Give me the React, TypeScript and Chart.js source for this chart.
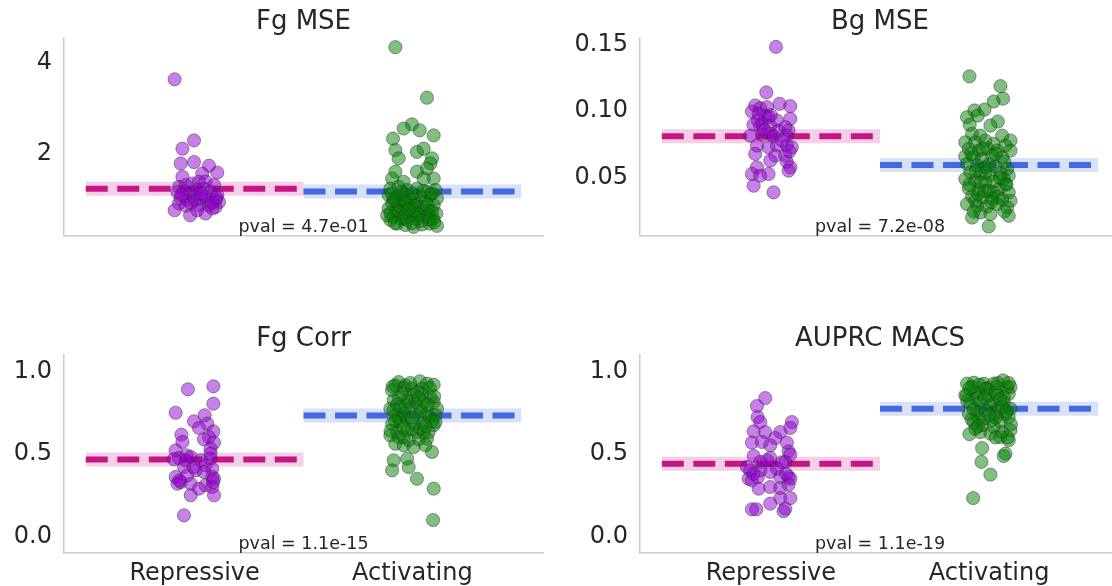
import React, { useEffect, useRef } from "react";
import { Chart, registerables } from "chart.js";

Chart.register(...registerables);

// ---------- data ----------
const categories = ["Repressive", "Activating"];
const panelTitles = ["Fg MSE", "Bg MSE", "Fg Corr", "AUPRC MACS"];
const pvalLabels = ["pval = 4.7e-01", "pval = 7.2e-08", "pval = 1.1e-15", "pval = 1.1e-19"];

const fgMseTicks = [2, 4];
const bgMseTicks = [0.05, 0.1, 0.15];
const corrTicks = [0.0, 0.5, 1.0];

// group means [Repressive, Activating]
const fgMseMeans = [1.25, 1.19];
const bgMseMeans = [0.0812, 0.0598];
const fgCorrMeans = [0.466, 0.734];
const auprcMeans = [0.441, 0.775];

// points: [jitter (category units), value]
type Pt = [number, number];

const fgMseRep: Pt[] = [
  [-0.092, 3.63], [-0.003, 2.3], [-0.056, 2.12], [-0.064, 1.8], [-0.003, 1.83], [0.066, 1.75],
  [0.104, 1.6], [-0.056, 1.51], [0.035, 1.58], [-0.072, 1.29], [-0.041, 1.33], [-0.011, 1.36],
  [0.02, 1.4], [0.05, 1.41], [0.089, 1.33], [-0.079, 1.18], [-0.049, 1.2], [-0.018, 1.15],
  [0.012, 1.22], [0.043, 1.25], [0.073, 1.18], [0.104, 1.11], [-0.064, 1.04], [-0.034, 1.0],
  [-0.003, 1.07], [0.028, 1.04], [0.058, 1.0], [0.096, 1.0], [0.112, 0.96], [-0.072, 0.93],
  [-0.018, 0.93], [0.02, 0.89], [0.066, 0.89], [0.096, 0.85], [-0.092, 0.78], [-0.021, 0.67],
  [0.05, 0.71], [0.012, 0.78], [0.081, 0.82], [-0.06, 1.12], [0.0, 1.0], [0.05, 1.08],
  [0.08, 0.95], [-0.04, 0.88], [0.03, 1.15], [0.1, 1.05],
];
const fgMseAct: Pt[] = [
  [-0.078, 4.33], [0.067, 3.23], [-0.002, 2.65], [-0.04, 2.56], [0.034, 2.52], [0.098, 2.41],
  [-0.089, 2.34], [-0.078, 2.09], [-0.063, 1.91], [0.021, 2.05], [0.052, 2.12], [0.09, 1.91],
  [0.083, 1.8], [0.067, 1.69], [-0.078, 1.62], [0.021, 1.62], [0.098, 1.47], [-0.093, 1.47],
  [0.052, 1.47], [-0.04, 1.4], [-0.101, 1.25], [-0.063, 1.29], [-0.024, 1.22], [0.021, 1.25],
  [0.067, 1.18], [0.106, 1.22], [-0.109, 1.11], [-0.07, 1.07], [-0.032, 1.12], [0.006, 1.04],
  [0.044, 1.07], [0.083, 1.11], [0.113, 1.04], [-0.093, 0.93], [-0.055, 0.96], [-0.017, 0.89],
  [0.021, 0.93], [0.06, 0.96], [0.098, 0.89], [-0.109, 0.82], [-0.073, 0.78], [-0.037, 0.75],
  [0.003, 0.82], [0.04, 0.76], [0.075, 0.78], [0.11, 0.71], [-0.089, 0.64], [-0.052, 0.6],
  [-0.012, 0.64], [0.021, 0.59], [0.06, 0.64], [0.095, 0.6], [-0.07, 0.49], [-0.032, 0.46],
  [0.006, 0.42], [0.044, 0.47], [0.079, 0.49], [0.113, 0.44], [-0.101, 0.57], [-0.047, 0.71],
  [-0.086, 1.04], [-0.009, 1.0], [0.029, 0.67], [-0.024, 0.57], [-0.063, 0.89], [0.052, 0.85],
  [0.006, 0.71], [-0.04, 1.0], [0.075, 0.67], [-0.116, 0.67], [-0.095, 1.15], [-0.05, 1.18],
  [0.0, 1.15], [0.05, 1.2], [0.09, 1.15], [-0.08, 0.98], [-0.03, 0.95], [0.01, 0.88],
  [0.07, 0.9], [-0.1, 0.72], [-0.06, 0.75], [0.02, 0.72], [0.09, 0.75], [-0.04, 0.62],
  [0.04, 0.55], [0.08, 0.58], [-0.08, 0.5], [0.0, 0.5], [0.1, 0.52], [-0.02, 0.8],
];

const bgMseRep: Pt[] = [
  [0.023, 0.148], [-0.021, 0.114], [0.04, 0.1055], [0.089, 0.1037], [-0.072, 0.1042], [-0.049, 0.1022],
  [-0.018, 0.103], [-0.087, 0.0997], [-0.056, 0.098], [-0.026, 0.0967], [-0.011, 0.0955], [0.028, 0.093],
  [0.089, 0.0943], [-0.041, 0.0905], [-0.049, 0.0887], [-0.003, 0.0892], [0.035, 0.0855], [0.081, 0.0855],
  [0.066, 0.088], [-0.095, 0.0817], [-0.041, 0.0823], [-0.003, 0.083], [0.012, 0.0812], [0.073, 0.0817],
  [-0.064, 0.0742], [-0.011, 0.073], [0.028, 0.0742], [0.073, 0.0742], [0.096, 0.073], [-0.072, 0.068],
  [0.02, 0.0667], [0.066, 0.0667], [-0.003, 0.063], [0.073, 0.0622], [0.089, 0.058], [0.081, 0.0555],
  [-0.064, 0.058], [-0.087, 0.053], [-0.049, 0.0517], [-0.011, 0.053], [-0.079, 0.0442], [0.012, 0.0392],
  [-0.06, 0.093], [-0.03, 0.086], [0.0, 0.097], [-0.08, 0.09], [0.05, 0.078], [0.085, 0.07],
];
const bgMseAct: Pt[] = [
  [-0.09, 0.126], [0.052, 0.1187], [0.064, 0.1093], [0.021, 0.1072], [-0.021, 0.1012], [-0.067, 0.1005],
  [-0.101, 0.0955], [-0.052, 0.0967], [0.04, 0.0922], [-0.089, 0.0898], [0.006, 0.0892], [-0.078, 0.083],
  [-0.04, 0.0817], [0.06, 0.0817], [0.098, 0.078], [-0.109, 0.0767], [-0.063, 0.0767], [-0.017, 0.078],
  [0.021, 0.0755], [0.075, 0.0742], [-0.093, 0.0718], [-0.047, 0.0705], [-0.009, 0.0722], [0.037, 0.0705],
  [0.098, 0.0705], [-0.109, 0.0662], [-0.07, 0.0655], [-0.032, 0.0643], [0.014, 0.0667], [0.06, 0.0655],
  [-0.101, 0.0605], [-0.055, 0.0592], [-0.017, 0.058], [0.029, 0.0587], [0.083, 0.0568], [-0.086, 0.0542],
  [-0.04, 0.053], [0.006, 0.0523], [0.052, 0.0538], [0.09, 0.0517], [-0.109, 0.0492], [-0.063, 0.048],
  [-0.017, 0.0467], [0.021, 0.0472], [0.075, 0.0455], [-0.093, 0.0422], [-0.047, 0.0412], [-0.002, 0.0405],
  [0.044, 0.0417], [0.09, 0.0392], [-0.078, 0.0362], [-0.032, 0.0354], [0.014, 0.0347], [0.06, 0.0342],
  [0.098, 0.033], [-0.101, 0.0305], [-0.055, 0.0292], [-0.009, 0.0287], [0.037, 0.0305], [0.083, 0.028],
  [-0.04, 0.0242], [0.006, 0.023], [-0.078, 0.0204], [0.09, 0.0217], [-0.002, 0.0137], [-0.017, 0.0542],
  [0.021, 0.0392], [-0.04, 0.0467], [0.067, 0.0492], [-0.063, 0.033], [-0.08, 0.068], [-0.03, 0.072],
  [0.03, 0.068], [0.07, 0.062], [-0.06, 0.055], [0.0, 0.06], [0.05, 0.05], [-0.09, 0.045],
  [-0.02, 0.04], [0.04, 0.036], [0.08, 0.045], [-0.05, 0.038], [0.01, 0.032], [0.07, 0.025],
  [-0.07, 0.025],
];

const fgCorrRep: Pt[] = [
  [-0.031, 0.892], [0.086, 0.91], [0.086, 0.805], [-0.087, 0.75], [0.046, 0.735], [-0.003, 0.698],
  [0.058, 0.684], [0.02, 0.658], [0.086, 0.637], [-0.061, 0.617], [0.066, 0.603], [-0.056, 0.573],
  [0.043, 0.589], [0.089, 0.569], [0.073, 0.532], [-0.087, 0.522], [-0.037, 0.492], [-0.072, 0.476],
  [-0.018, 0.482], [0.073, 0.472], [0.028, 0.462], [-0.095, 0.468], [0.05, 0.431], [-0.049, 0.421],
  [0.005, 0.401], [0.081, 0.411], [0.043, 0.391], [-0.087, 0.361], [-0.034, 0.371], [0.081, 0.361],
  [0.089, 0.35], [-0.064, 0.33], [-0.018, 0.32], [0.05, 0.31], [-0.079, 0.32], [0.02, 0.29],
  [0.081, 0.3], [0.089, 0.25], [-0.018, 0.25], [-0.049, 0.128], [-0.003, 0.421], [0.073, 0.502],
  [-0.07, 0.34], [0.085, 0.33], [-0.04, 0.46],
];
const fgCorrAct: Pt[] = [
  [-0.063, 0.936], [-0.032, 0.916], [0.034, 0.941], [0.067, 0.926], [0.098, 0.92], [-0.093, 0.886],
  [-0.002, 0.896], [-0.047, 0.865], [0.044, 0.865], [0.083, 0.845], [-0.086, 0.825], [-0.024, 0.825],
  [0.014, 0.815], [0.098, 0.815], [-0.101, 0.775], [-0.055, 0.785], [-0.009, 0.775], [0.037, 0.785],
  [0.113, 0.775], [-0.078, 0.735], [-0.032, 0.724], [0.021, 0.735], [0.075, 0.724], [0.106, 0.735],
  [-0.093, 0.684], [-0.055, 0.694], [0.006, 0.684], [0.052, 0.69], [0.098, 0.674], [-0.07, 0.633],
  [-0.024, 0.644], [0.021, 0.633], [0.075, 0.633], [-0.101, 0.613], [-0.063, 0.603], [-0.017, 0.583],
  [0.029, 0.589], [0.067, 0.593], [-0.078, 0.562], [-0.04, 0.553], [0.006, 0.542], [0.06, 0.553],
  [0.09, 0.512], [-0.086, 0.462], [-0.024, 0.472], [-0.093, 0.401], [-0.017, 0.421], [0.021, 0.35],
  [0.098, 0.29], [0.095, 0.1], [0.044, 0.896], [-0.04, 0.9], [0.006, 0.856], [-0.07, 0.799],
  [0.052, 0.815], [-0.04, 0.744], [-0.002, 0.653], [-0.078, 0.916], [0.021, 0.876], [-0.017, 0.815],
  [0.067, 0.744], [-0.063, 0.714], [0.037, 0.653], [-0.04, 0.603], [0.052, 0.633], [0.106, 0.694],
  [-0.086, 0.765], [-0.09, 0.91], [-0.01, 0.93], [0.08, 0.9], [-0.06, 0.84], [0.03, 0.84],
  [0.1, 0.85], [-0.08, 0.7], [0.0, 0.72], [0.09, 0.7], [-0.04, 0.66], [0.06, 0.67],
  [-0.1, 0.64], [0.04, 0.76], [-0.03, 0.79], [0.07, 0.8],
];

const auprcRep: Pt[] = [
  [-0.026, 0.839], [-0.064, 0.791], [-0.061, 0.724], [-0.049, 0.694], [0.096, 0.694], [0.089, 0.658],
  [-0.079, 0.637], [-0.026, 0.633], [0.043, 0.633], [0.02, 0.597], [-0.087, 0.569], [-0.041, 0.573],
  [0.073, 0.569], [-0.003, 0.553], [0.081, 0.516], [-0.079, 0.488], [-0.003, 0.476], [0.089, 0.496],
  [-0.049, 0.452], [-0.018, 0.462], [0.066, 0.452], [-0.095, 0.401], [-0.049, 0.401], [0.043, 0.361],
  [0.081, 0.361], [-0.102, 0.35], [-0.003, 0.391], [-0.087, 0.34], [-0.056, 0.29], [-0.003, 0.3],
  [0.043, 0.294], [0.081, 0.314], [0.089, 0.35], [0.043, 0.233], [0.089, 0.233], [-0.003, 0.199],
  [-0.087, 0.165], [-0.067, 0.165], [0.058, 0.153], [0.066, 0.169], [0.028, 0.411], [-0.11, 0.421],
  [-0.08, 0.38], [-0.06, 0.36], [0.07, 0.38], [0.05, 0.45],
];
const auprcAct: Pt[] = [
  [-0.101, 0.926], [-0.07, 0.932], [-0.024, 0.926], [0.021, 0.926], [0.064, 0.946], [0.098, 0.906],
  [-0.109, 0.856], [-0.063, 0.876], [-0.009, 0.896], [0.037, 0.906], [0.09, 0.865], [-0.086, 0.805],
  [-0.04, 0.815], [0.014, 0.825], [0.067, 0.815], [0.098, 0.775], [-0.093, 0.744], [-0.055, 0.755],
  [-0.017, 0.765], [0.029, 0.744], [0.09, 0.724], [-0.07, 0.694], [-0.032, 0.674], [0.014, 0.704],
  [0.052, 0.694], [-0.04, 0.633], [0.006, 0.623], [0.06, 0.633], [0.098, 0.644], [0.052, 0.603],
  [0.09, 0.583], [-0.032, 0.536], [0.075, 0.502], [0.067, 0.488], [-0.035, 0.452], [0.006, 0.375],
  [-0.073, 0.233], [-0.101, 0.856], [-0.04, 0.865], [0.006, 0.795], [0.037, 0.856], [0.067, 0.845],
  [-0.024, 0.714], [0.021, 0.664], [-0.063, 0.653], [-0.078, 0.906], [-0.002, 0.856], [0.044, 0.775],
  [-0.047, 0.714], [0.075, 0.744], [-0.017, 0.896], [0.029, 0.875], [0.083, 0.906], [-0.055, 0.835],
  [0.06, 0.785], [-0.09, 0.9], [-0.045, 0.92], [0.04, 0.93], [0.09, 0.93], [-0.1, 0.82],
  [-0.02, 0.84], [0.05, 0.83], [-0.07, 0.77], [0.0, 0.74], [0.08, 0.76], [-0.08, 0.71],
  [0.03, 0.72], [-0.05, 0.67], [0.1, 0.68], [-0.09, 0.62], [0.03, 0.6], [0.085, 0.6],
];

// ---------- styling / layout ----------
const FONT = "'DejaVu Sans', 'Liberation Sans', sans-serif";
const TEXT = "#262626";
const SPINE = "#cccccc";
const REP_FILL = "rgba(148,0,211,0.5)";
const ACT_FILL = "rgba(0,128,0,0.5)";
const EDGE = "rgba(45,45,45,0.45)";
const REP_LINE = "#C71585";
const ACT_LINE = "#4169E1";
const REP_BAND = "rgba(199,21,133,0.2)";
const ACT_BAND = "rgba(65,105,225,0.2)";

type Spec = {
  title: string;
  pval: string;
  rep: Pt[];
  act: Pt[];
  means: number[];
  yMin: number;
  yMax: number;
  yTicks: number[];
  decimals: number;
  showX: boolean;
};

type Box = { left: number; top: number; w: number; h: number; axisW: number; axisH: number; padTop: number; padRight: number };

const specs: Spec[] = [
  { title: panelTitles[0], pval: pvalLabels[0], rep: fgMseRep, act: fgMseAct, means: fgMseMeans, yMin: 0.22, yMax: 4.53, yTicks: fgMseTicks, decimals: 0, showX: false },
  { title: panelTitles[1], pval: pvalLabels[1], rep: bgMseRep, act: bgMseAct, means: bgMseMeans, yMin: 0.0066, yMax: 0.1547, yTicks: bgMseTicks, decimals: 2, showX: false },
  { title: panelTitles[2], pval: pvalLabels[2], rep: fgCorrRep, act: fgCorrAct, means: fgCorrMeans, yMin: -0.1, yMax: 1.1, yTicks: corrTicks, decimals: 1, showX: true },
  { title: panelTitles[3], pval: pvalLabels[3], rep: auprcRep, act: auprcAct, means: auprcMeans, yMin: -0.1, yMax: 1.1, yTicks: corrTicks, decimals: 1, showX: true },
];

const boxes: Box[] = [
  { left: 0, top: 0, w: 560, h: 293, axisW: 64, axisH: 57, padTop: 38, padRight: 17 },
  { left: 560, top: 0, w: 580, h: 293, axisW: 80, axisH: 57, padTop: 38, padRight: 20 },
  { left: 0, top: 293, w: 560, h: 293, axisW: 64, axisH: 33, padTop: 62, padRight: 17 },
  { left: 560, top: 293, w: 580, h: 293, axisW: 80, axisH: 33, padTop: 62, padRight: 20 },
];

const annotPlugin = {
  id: "annot",
  afterDatasetsDraw(chart: any, _args: any, opts: any) {
    const { ctx, chartArea, scales } = chart;
    const cx = scales.x.getPixelForValue(0.5);
    ctx.save();
    ctx.fillStyle = TEXT;
    ctx.textAlign = "center";
    ctx.textBaseline = "alphabetic";
    ctx.font = `26px ${FONT}`;
    ctx.fillText(opts.title, cx, chartArea.top - 9);
    ctx.font = `17.5px ${FONT}`;
    ctx.fillText(opts.pval, cx, chartArea.bottom - 4.5);
    ctx.restore();
  },
};

function Panel({ spec, box }: { spec: Spec; box: Box }) {
  const ref = useRef<HTMLCanvasElement | null>(null);
  useEffect(() => {
    if (!ref.current) return;
    const meanLine = (cat: number, m: number, color: string, width: number, dash: number[], order: number) => ({
      type: "line" as const,
      data: [
        { x: cat - 0.5, y: m },
        { x: cat + 0.5, y: m },
      ],
      borderColor: color,
      borderWidth: width,
      borderDash: dash,
      borderCapStyle: "butt" as const,
      pointRadius: 0,
      fill: false,
      order,
    });
    const strip = (cat: number, pts: Pt[], fill: string) => ({
      type: "scatter" as const,
      data: pts.map(([dx, v]) => ({ x: cat + dx, y: v })),
      backgroundColor: fill,
      borderColor: EDGE,
      borderWidth: 1,
      pointRadius: 6.6,
      order: 0,
    });
    const chart = new Chart(ref.current, {
      type: "scatter",
      data: {
        datasets: [
          strip(0, spec.rep, REP_FILL),
          strip(1, spec.act, ACT_FILL),
          meanLine(0, spec.means[0], REP_LINE, 6, [22, 9.5], 1),
          meanLine(1, spec.means[1], ACT_LINE, 6, [22, 9.5], 1),
          meanLine(0, spec.means[0], REP_BAND, 14, [], 2),
          meanLine(1, spec.means[1], ACT_BAND, 14, [], 2),
        ] as any,
      },
      options: {
        animation: false,
        responsive: false,
        devicePixelRatio: 1,
        layout: { padding: { left: 0, right: box.padRight, top: box.padTop, bottom: 0 }, autoPadding: false } as any,
        plugins: {
          legend: { display: false },
          tooltip: { enabled: false },
          annot: { title: spec.title, pval: spec.pval },
        } as any,
        scales: {
          x: {
            type: "linear",
            min: -0.6,
            max: 1.6,
            grid: { display: false, drawTicks: false },
            border: { display: true, color: SPINE, width: 1.5 },
            afterBuildTicks: (s: any) => {
              s.ticks = [{ value: 0 }, { value: 1 }];
            },
            afterFit: (s: any) => {
              s.height = box.axisH;
            },
            ticks: {
              display: spec.showX,
              maxRotation: 0,
              autoSkip: false,
              padding: 6,
              color: TEXT,
              font: { family: FONT, size: 24 },
              callback: (v: any) => (Number(v) === 0 ? categories[0] : Number(v) === 1 ? categories[1] : ""),
            },
          },
          y: {
            type: "linear",
            min: spec.yMin,
            max: spec.yMax,
            grid: { display: false, drawTicks: false },
            border: { display: true, color: SPINE, width: 1.5 },
            afterBuildTicks: (s: any) => {
              s.ticks = spec.yTicks.map((v) => ({ value: v }));
            },
            afterFit: (s: any) => {
              s.width = box.axisW;
            },
            ticks: {
              padding: 12,
              color: TEXT,
              font: { family: FONT, size: 24 },
              callback: (v: any) => Number(v).toFixed(spec.decimals),
            },
          },
        },
      } as any,
      plugins: [annotPlugin],
    });
    return () => chart.destroy();
  }, [spec, box]);
  return (
    <canvas
      ref={ref}
      width={box.w}
      height={box.h}
      style={{ position: "absolute", left: box.left, top: box.top, width: box.w, height: box.h }}
    />
  );
}

export default function App() {
  return (
    <div
      style={{
        position: "fixed",
        left: 0,
        top: 0,
        width: 1112,
        height: 586,
        overflow: "hidden",
        background: "#ffffff",
      }}
    >
      {specs.map((s, i) => (
        <Panel key={i} spec={s} box={boxes[i]} />
      ))}
    </div>
  );
}
